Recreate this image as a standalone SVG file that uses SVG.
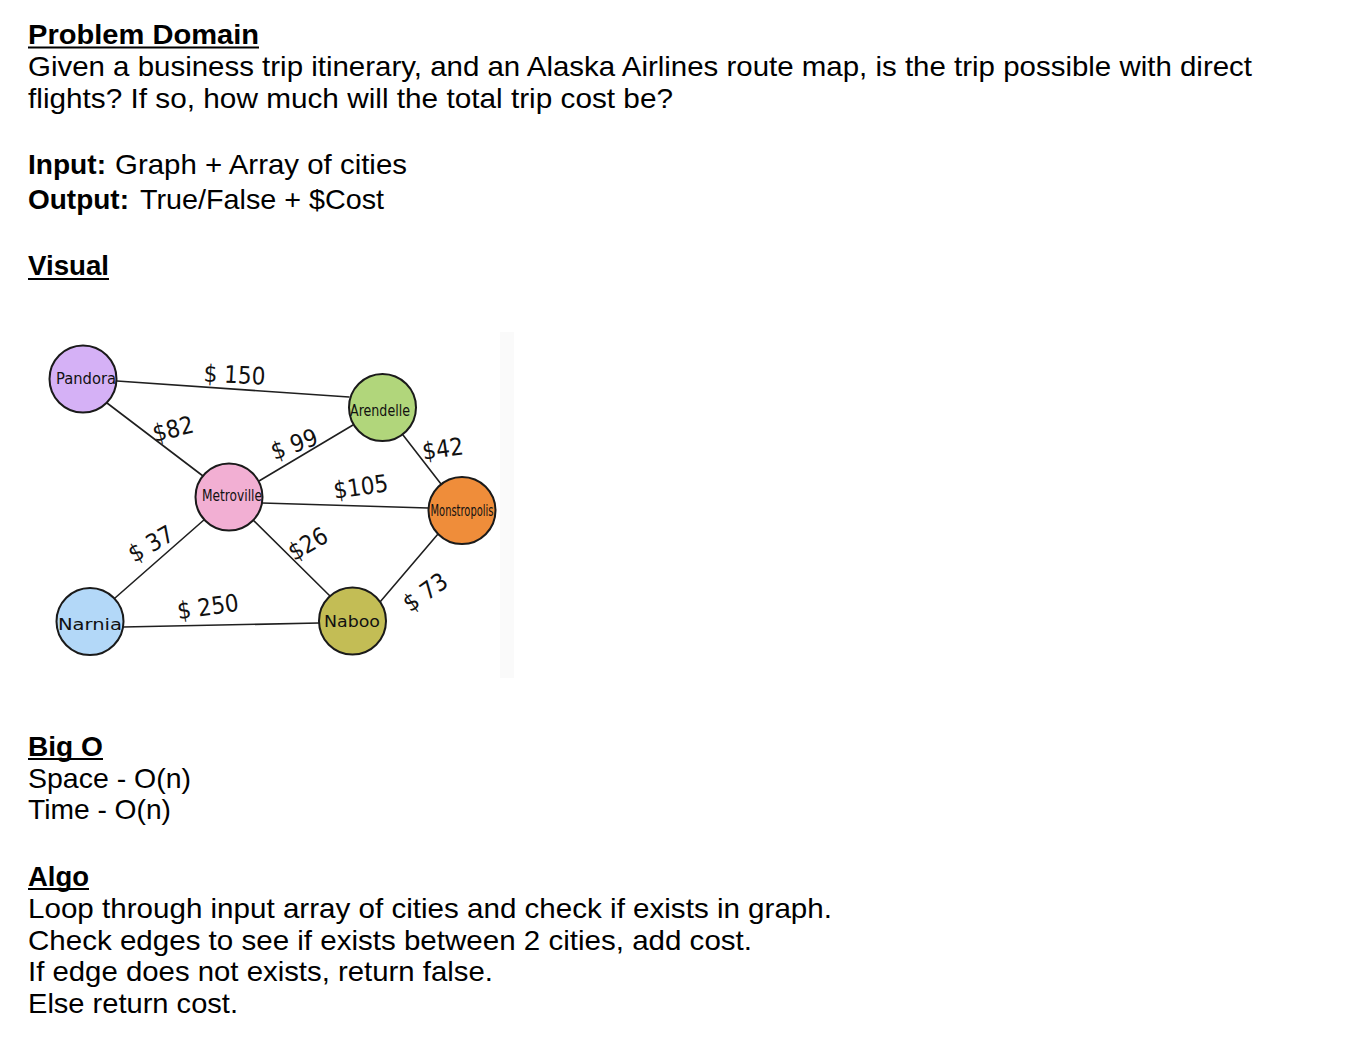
<svg xmlns="http://www.w3.org/2000/svg" width="1348" height="1064" viewBox="0 0 1348 1064">
  <style>
    .t { font-family: "Liberation Sans", Arial, Helvetica, sans-serif; font-size: 28px; fill: #000; }
    .b { font-weight: bold; }
    .ul { stroke: #000; stroke-width: 2; }
    .node { stroke: #1a1a1a; stroke-width: 2; }
    .nl { font-family: "Liberation Sans Narrow", "DejaVu Sans Condensed", "Liberation Sans", sans-serif; font-size: 15px; fill: #111; text-anchor: middle; }
    .edge { stroke: #1f1f1f; stroke-width: 1.6; fill: none; stroke-linecap: round; }
    .cost { font-family: "DejaVu Sans Condensed", "Liberation Sans", sans-serif; font-size: 24px; fill: #111; text-anchor: middle; }
  </style>

  <rect width="1348" height="1064" fill="#fff"/>

  <!-- Problem statement -->
  <g id="problem-domain">
    <text class="t b" x="28" y="44" textLength="231" lengthAdjust="spacingAndGlyphs">Problem Domain</text>
    <line class="ul" x1="28" y1="47.5" x2="259" y2="47.5"/>
    <text class="t" x="28" y="76" textLength="1224" lengthAdjust="spacingAndGlyphs">Given a business trip itinerary, and an Alaska Airlines route map, is the trip possible with direct</text>
    <text class="t" x="28" y="108" textLength="645" lengthAdjust="spacingAndGlyphs">flights? If so, how much will the total trip cost be?</text>
  </g>

  <g id="io">
    <text class="t b" x="28" y="174" textLength="78" lengthAdjust="spacingAndGlyphs">Input:</text>
    <text class="t" x="115" y="174" textLength="292" lengthAdjust="spacingAndGlyphs">Graph + Array of cities</text>
    <text class="t b" x="28" y="209" textLength="101" lengthAdjust="spacingAndGlyphs">Output:</text>
    <text class="t" x="140" y="209" textLength="244" lengthAdjust="spacingAndGlyphs">True/False + $Cost</text>
  </g>

  <g id="visual-heading">
    <text class="t b" x="28" y="275" textLength="81" lengthAdjust="spacingAndGlyphs">Visual</text>
    <line class="ul" x1="28" y1="279" x2="109" y2="279"/>
  </g>

  <!-- faint strip at the right edge of the sketch -->
  <rect x="500" y="332" width="14" height="346" fill="#fafafa"/>

  <!-- Route map -->
  <g id="connectors">
    <line class="edge" x1="117" y1="381" x2="349" y2="397"/>
    <line class="edge" x1="107" y1="403" x2="203" y2="476"/>
    <line class="edge" x1="259" y1="481" x2="353" y2="425"/>
    <line class="edge" x1="262" y1="503" x2="428" y2="508"/>
    <line class="edge" x1="403" y1="435" x2="441" y2="484"/>
    <line class="edge" x1="252" y1="519" x2="332" y2="598"/>
    <line class="edge" x1="115" y1="598" x2="205" y2="519"/>
    <line class="edge" x1="123" y1="627" x2="319" y2="623"/>
    <line class="edge" x1="380" y1="602" x2="438" y2="534"/>

    <text class="cost" transform="translate(234 383) rotate(3)">$ 150</text>
    <text class="cost" transform="translate(175 437) rotate(-14)">$82</text>
    <text class="cost" transform="translate(297 452) rotate(-20)">$ 99</text>
    <text class="cost" transform="translate(444 457) rotate(-8)">$42</text>
    <text class="cost" transform="translate(362 495) rotate(-8)">$105</text>
    <text class="cost" transform="translate(155 551) rotate(-30)">$ 37</text>
    <text class="cost" transform="translate(312 551) rotate(-30)">$26</text>
    <text class="cost" transform="translate(209 615) rotate(-8)">$ 250</text>
    <text class="cost" transform="translate(430 599) rotate(-35)">$ 73</text>
  </g>

  <g id="pandora">
    <circle class="node" cx="83" cy="379" r="33.5" fill="#d5b1f6"/>
    <text class="nl" x="86" y="384" textLength="60" lengthAdjust="spacingAndGlyphs">Pandora</text>
  </g>
  <g id="metroville">
    <circle class="node" cx="229" cy="497" r="33.5" fill="#f2afd3"/>
    <text class="nl" x="232" y="501" textLength="60" lengthAdjust="spacingAndGlyphs">Metroville</text>
  </g>
  <g id="arendelle">
    <circle class="node" cx="382.5" cy="407.5" r="33.5" fill="#b1d67b"/>
    <text class="nl" x="380" y="416" textLength="60" lengthAdjust="spacingAndGlyphs">Arendelle</text>
  </g>
  <g id="monstropolis">
    <circle class="node" cx="462" cy="510.5" r="33.5" fill="#ef8d3a"/>
    <text class="nl" x="462" y="516" textLength="63" lengthAdjust="spacingAndGlyphs">Monstropolis</text>
  </g>
  <g id="narnia">
    <circle class="node" cx="90" cy="621.5" r="33.5" fill="#b3d8f8"/>
    <text class="nl" x="90" y="630" textLength="64" lengthAdjust="spacingAndGlyphs">Narnia</text>
  </g>
  <g id="naboo">
    <circle class="node" cx="352.5" cy="621" r="33.5" fill="#c3bd55"/>
    <text class="nl" x="352" y="627" textLength="56" lengthAdjust="spacingAndGlyphs">Naboo</text>
  </g>

  <!-- Complexity -->
  <g id="big-o">
    <text class="t b" x="28" y="756" textLength="75" lengthAdjust="spacingAndGlyphs">Big O</text>
    <line class="ul" x1="28" y1="759" x2="103" y2="759"/>
    <text class="t" x="28" y="788" textLength="163" lengthAdjust="spacingAndGlyphs">Space - O(n)</text>
    <text class="t" x="28" y="819" textLength="143" lengthAdjust="spacingAndGlyphs">Time - O(n)</text>
  </g>

  <!-- Algorithm -->
  <g id="algo">
    <text class="t b" x="28" y="886" textLength="61" lengthAdjust="spacingAndGlyphs">Algo</text>
    <line class="ul" x1="28" y1="889" x2="89" y2="889"/>
    <text class="t" x="28" y="918" textLength="804" lengthAdjust="spacingAndGlyphs">Loop through input array of cities and check if exists in graph.</text>
    <text class="t" x="28" y="950" textLength="724" lengthAdjust="spacingAndGlyphs">Check edges to see if exists between 2 cities, add cost.</text>
    <text class="t" x="28" y="981" textLength="465" lengthAdjust="spacingAndGlyphs">If edge does not exists, return false.</text>
    <text class="t" x="28" y="1013" textLength="210" lengthAdjust="spacingAndGlyphs">Else return cost.</text>
  </g>
</svg>
